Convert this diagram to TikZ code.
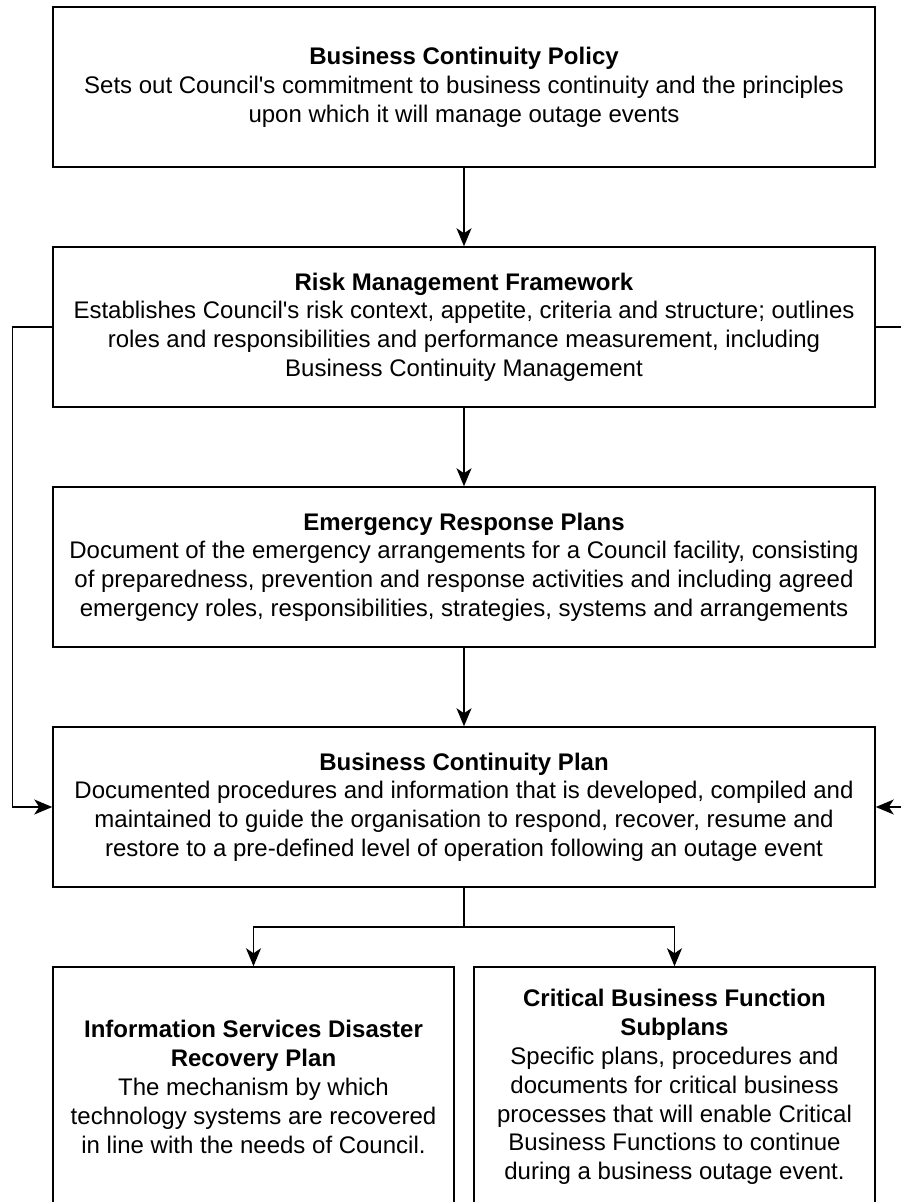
\documentclass[tikz,border=0pt]{standalone}
\usepackage{fontspec}
\setmainfont{Liberation Sans}
\usetikzlibrary{arrows.meta}

\begin{document}
\begin{tikzpicture}[x=1pt, y=-1pt,
  every node/.style={font=\fontsize{24}{28.8}\selectfont, align=center},
  docbox/.style={draw, line width=1.5pt, inner sep=0pt, minimum width=822pt, minimum height=160pt},
  subbox/.style={docbox, minimum width=401pt, minimum height=240pt},
  link/.style={line width=1.5pt, -{Stealth[length=18pt, width=15pt, inset=5pt]}}]
  % Page frame (the diagram is cut at the right and bottom edges)
  \useasboundingbox (0,0) rectangle (901,1202);
  \clip (0,0) rectangle (901,1202);

  % Main chain of documents
  \node[docbox] (policy) at (464,87) {\textbf{Business Continuity Policy}\\
    Sets out Council\textquotesingle s commitment to business continuity and the principles\\
    upon which it will manage outage events};
  \node[docbox] (riskfw) at (464,327) {\textbf{Risk Management Framework}\\
    Establishes Council\textquotesingle s risk context, appetite, criteria and structure; outlines\\
    roles and responsibilities and performance measurement, including\\
    Business Continuity Management};
  \node[docbox] (erplans) at (464,567) {\textbf{Emergency Response Plans}\\
    Document of the emergency arrangements for a Council facility, consisting\\
    of preparedness, prevention and response activities and including agreed\\
    emergency roles, responsibilities, strategies, systems and arrangements};
  \node[docbox] (bcplan) at (464,807) {\textbf{Business Continuity Plan}\\
    Documented procedures and information that is developed, compiled and\\
    maintained to guide the organisation to respond, recover, resume and\\
    restore to a pre-defined level of operation following an outage event};

  % Subplans
  \node[subbox] (isdrp) at (253.5,1087) {\textbf{Information Services Disaster}\\
    \textbf{Recovery Plan}\\
    The mechanism by which\\
    technology systems are recovered\\
    in line with the needs of Council.};
  \node[subbox] (cbfsub) at (674.5,1087) {\textbf{Critical Business Function}\\
    \textbf{Subplans}\\
    Specific plans, procedures and\\
    documents for critical business\\
    processes that will enable Critical\\
    Business Functions to continue\\
    during a business outage event.};

  % Straight links down the chain
  \draw[link] (policy) -- (riskfw);
  \draw[link] (riskfw) -- (erplans);
  \draw[link] (erplans) -- (bcplan);

  % Side links from the framework to the plan
  \draw[link] (riskfw.west) -- ++(-40,0) |- (bcplan.west);
  \draw[link] (riskfw.east) -- ++(40,0) |- (bcplan.east);

  % Split to the subplans
  \coordinate (split) at (464,927);
  \draw[line width=1.5pt] (bcplan.south) -- (split);
  \draw[link] (split) -| (isdrp.north);
  \draw[link] (split) -| (cbfsub.north);
\end{tikzpicture}
\end{document}
